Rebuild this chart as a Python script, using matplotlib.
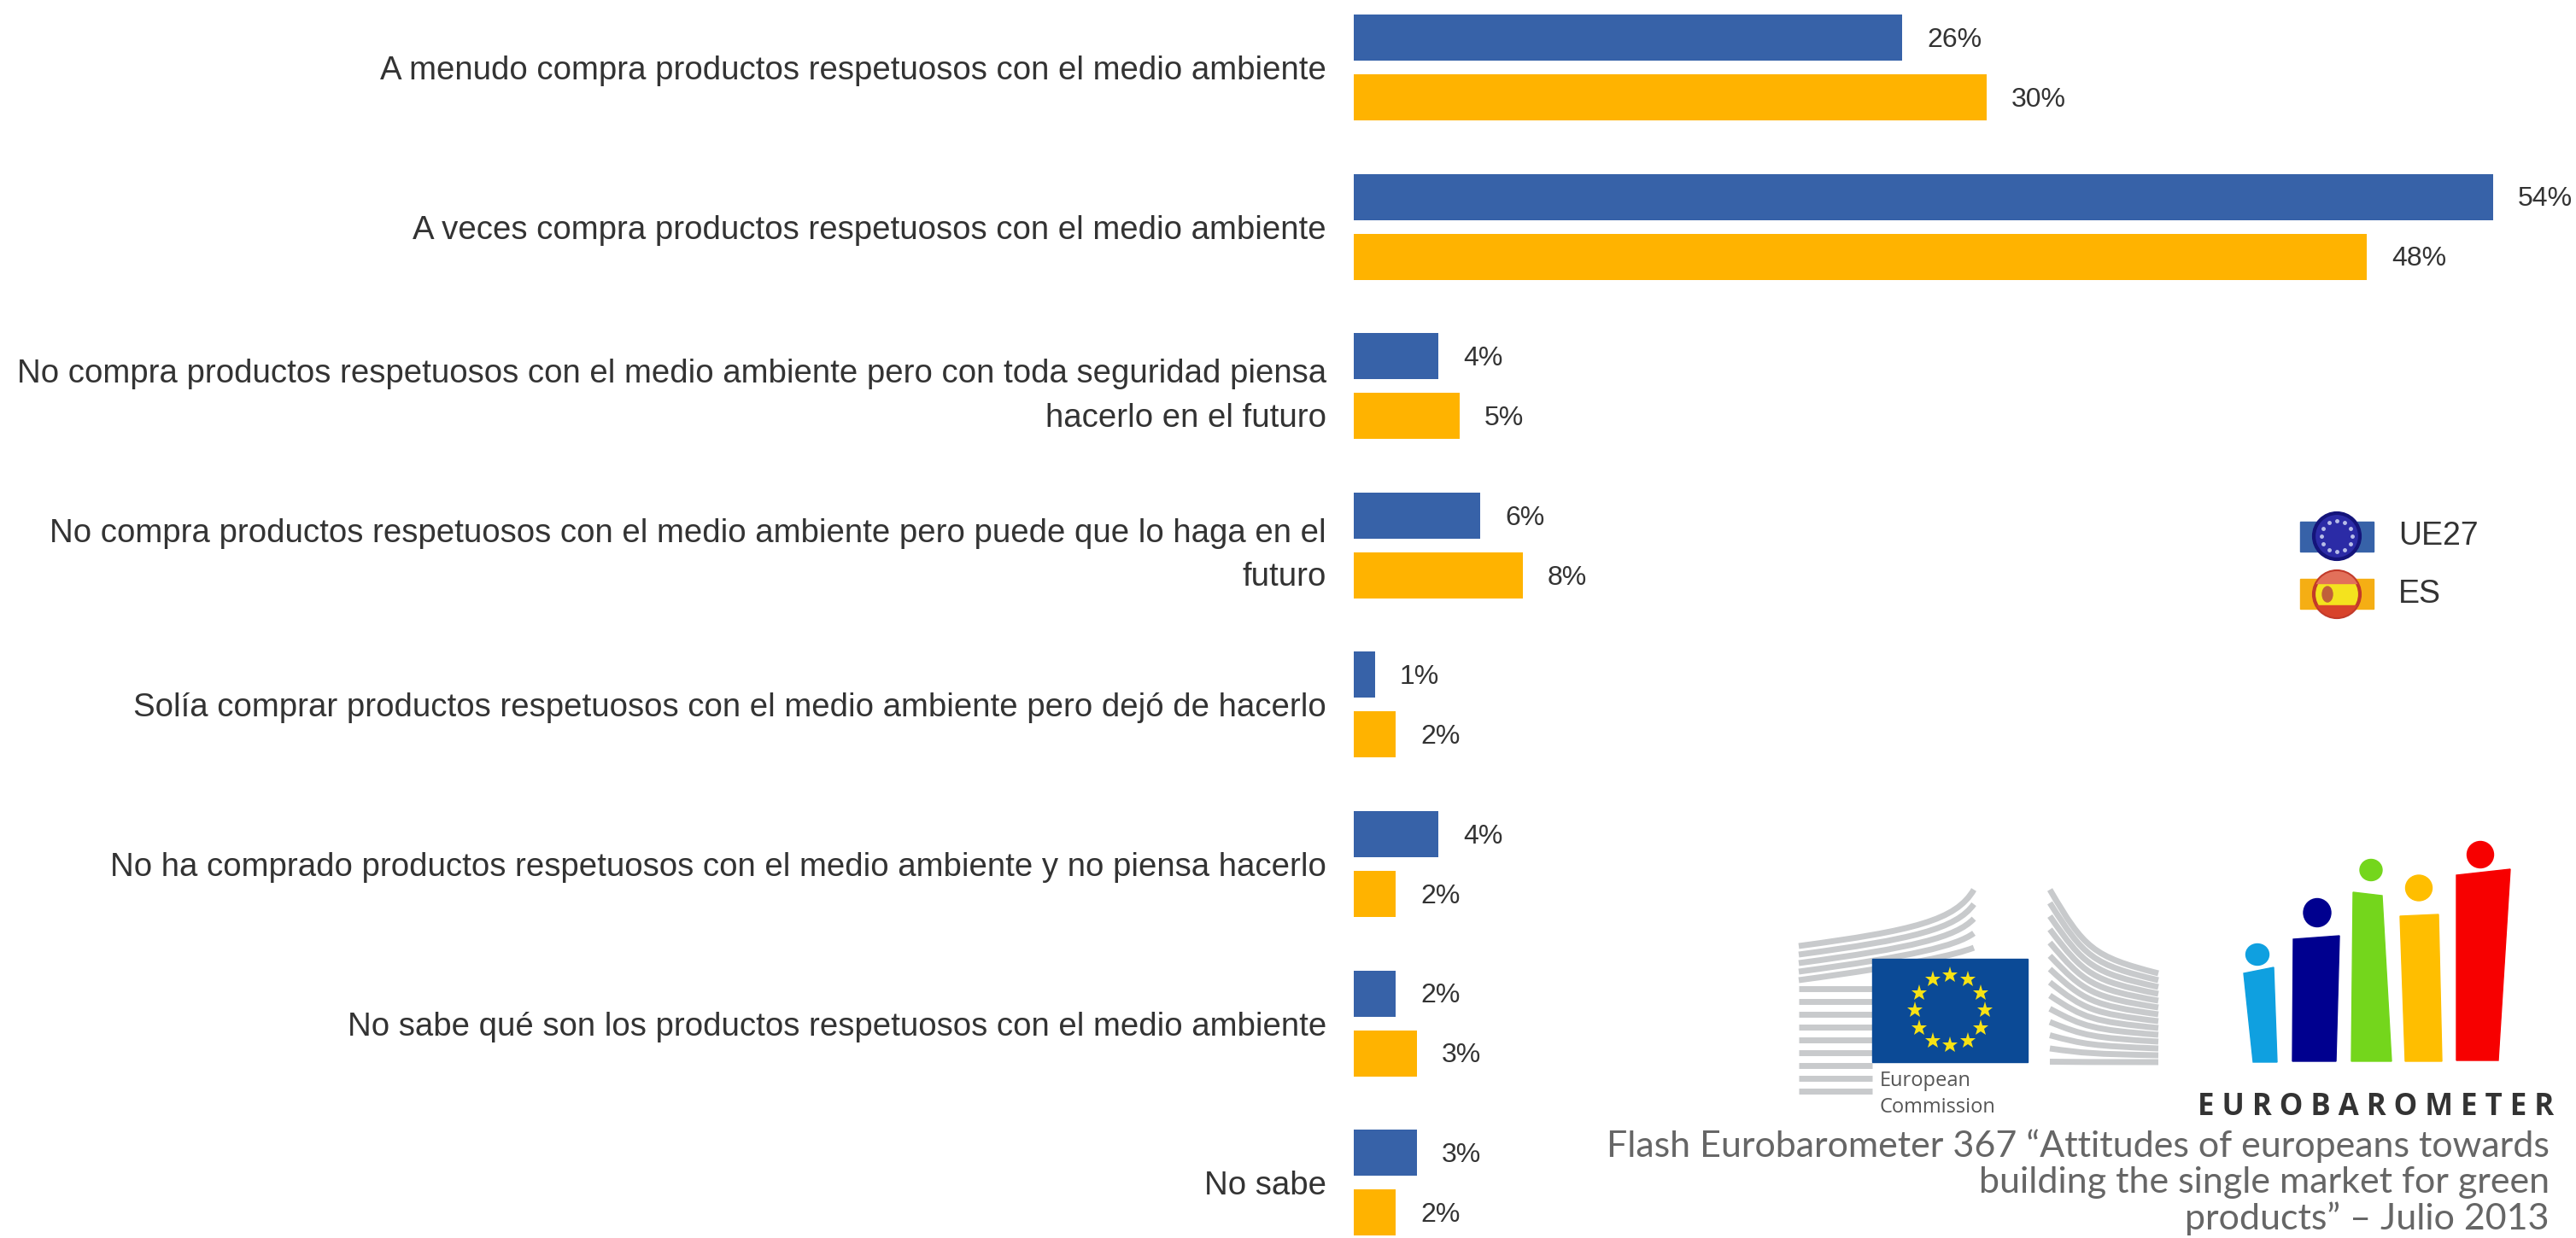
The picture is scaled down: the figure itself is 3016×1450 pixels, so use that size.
import numpy as np
import matplotlib
matplotlib.use('Agg')
from matplotlib import pyplot as plt
from matplotlib.patches import Polygon, Ellipse, Rectangle, PathPatch, Circle
from matplotlib.path import Path

categories = [
    'A menudo compra productos respetuosos con el medio ambiente',
    'A veces compra productos respetuosos con el medio ambiente',
    'No compra productos respetuosos con el medio ambiente pero con toda seguridad piensa\nhacerlo en el futuro',
    'No compra productos respetuosos con el medio ambiente pero puede que lo haga en el\nfuturo',
    'Solía comprar productos respetuosos con el medio ambiente pero dejó de hacerlo',
    'No ha comprado productos respetuosos con el medio ambiente y no piensa hacerlo',
    'No sabe qué son los productos respetuosos con el medio ambiente',
    'No sabe',
]
ue27 = [26, 54, 4, 6, 1, 4, 2, 3]
es = [30, 48, 5, 8, 2, 2, 3, 2]

BLUE = '#3762A8'
ORANGE = '#FFB300'
W, H = 3016, 1450
LABEL_FONT = 'Liberation Sans'

fig = plt.figure(figsize=(W / 100, H / 100), dpi=100, facecolor='white')

# chart axes: zero line at x=1585, 24.7 px per percent, 186.6 px per group
ax = fig.add_axes([1585 / W, 0, 1 - 1585 / W, 1])
ax.set_xlim(0, (W - 1585) / 24.7)
ax.set_ylim((H - 79) / 186.6, -79 / 186.6)
y = np.arange(len(categories))
offset = 0.1876
bar_h = 0.289
ax.barh(y - offset, ue27, height=bar_h, color=BLUE)
ax.barh(y + offset, es, height=bar_h, color=ORANGE)
for i in range(len(categories)):
    ax.annotate('{}%'.format(ue27[i]), (ue27[i], y[i] - offset), xytext=(21, -2), textcoords='offset points',
                va='center', ha='left', fontsize=23, color='#333333', family=LABEL_FONT)
    ax.annotate('{}%'.format(es[i]), (es[i], y[i] + offset), xytext=(21, -2), textcoords='offset points',
                va='center', ha='left', fontsize=23, color='#333333', family=LABEL_FONT)
ax.set_yticks(y, categories, family=LABEL_FONT, fontsize=27.6, color='#333333', ma='right', linespacing=1.56)
ax.tick_params(axis='y', length=0, pad=23)
ax.set_xticks([])
for s in ax.spines.values():
    s.set_visible(False)

# overlay in image pixels for the legend and the logos
deco = fig.add_axes([0, 0, 1, 1], facecolor='none')
deco.set_xlim(0, W)
deco.set_ylim(H, 0)
deco.axis('off')

# legend
deco.add_patch(Rectangle((2693, 611), 86, 35, color=BLUE))
deco.add_patch(Rectangle((2693, 678), 86, 35, color='#F5AE14'))
deco.add_patch(Circle((2736, 628), 27, fc='#2B2BA6', ec='#14147A', lw=3, zorder=3))
for a in np.linspace(0, 2 * np.pi, 12, endpoint=False):
    deco.plot(2736 + 18 * np.cos(a), 628 + 18 * np.sin(a), 'o', ms=2.5, color='#B8BEE8', zorder=4)
deco.add_patch(Circle((2736, 696), 27, fc='#F4E31E', ec='#C23A2A', lw=3, zorder=3))
top = Rectangle((2705, 665), 62, 18, color='#E2705A', zorder=4)
bot = Rectangle((2705, 709), 62, 18, color='#D8432B', zorder=4)
deco.add_patch(top)
deco.add_patch(bot)
clip = Circle((2736, 696), 27, transform=deco.transData)
top.set_clip_path(clip)
bot.set_clip_path(clip)
deco.add_patch(Ellipse((2725, 696), 12, 18, color='#C0603A', zorder=5))
deco.text(2808, 628, 'UE27', family=LABEL_FONT, fontsize=27, color='#333333', va='center')
deco.text(2808, 696, 'ES', family=LABEL_FONT, fontsize=27, color='#333333', va='center')

# European Commission logo
for k in range(14):
    y0 = 1108 + 10 * k
    if k < 5:
        ye = 1042 + 17 * k
        p = Path([(2106, y0), (2240, y0 - 18), (2290, y0 - 30), (2311, ye)], [1, 4, 4, 4])
    else:
        p = Path([(2106, y0 + 5 * (k - 5)), (2192, y0 + 5 * (k - 5))], [1, 2])
    deco.add_patch(PathPatch(p, fc='none', ec='#C8CACC', lw=5))
for k in range(14):
    y0 = 1042 + 15.5 * k
    ye = 1140 + 8 * k
    p = Path([(2400, y0), (2440, y0 + 0.7 * (ye - y0)), (2450, ye - 0.2 * (ye - y0)), (2527, ye)], [1, 4, 4, 4])
    deco.add_patch(PathPatch(p, fc='none', ec='#C8CACC', lw=5))
deco.add_patch(Rectangle((2192, 1123), 182, 121, color='#0B4A96', zorder=3))
for a in np.linspace(0, 2 * np.pi, 12, endpoint=False):
    deco.plot(2283 + 41 * np.cos(a), 1183 + 41 * np.sin(a), marker='*', ms=14, color='#F7E214', mew=0, zorder=4)
deco.text(2201, 1266, 'European', family='Open Sans', fontsize=17, color='#555555', va='center')
deco.text(2201, 1297, 'Commission', family='Open Sans', fontsize=17, color='#555555', va='center')

# Eurobarometer logo
bodies = [
    ([(2627, 1140), (2662, 1133), (2666, 1244), (2638, 1244)], '#0FA0E0'),
    ([(2685, 1100), (2739, 1096), (2735, 1243), (2684, 1243)], '#00008F'),
    ([(2755, 1045), (2789, 1049), (2800, 1243), (2753, 1243)], '#74D61C'),
    ([(2810, 1073), (2855, 1071), (2859, 1243), (2816, 1243)], '#FFBE00'),
    ([(2876, 1025), (2939, 1018), (2925, 1242), (2876, 1242)], '#F70000'),
]
heads = [
    ((2643, 1118), 27, 25, '#0FA0E0'),
    ((2713, 1069), 32, 33, '#00008F'),
    ((2776, 1019), 26, 25, '#74D61C'),
    ((2832, 1040), 31, 30, '#FFBE00'),
    ((2904, 1001), 31, 31, '#F70000'),
]
for pts, c in bodies:
    deco.add_patch(Polygon(pts, closed=True, color=c))
for xy, w, h, c in heads:
    deco.add_patch(Ellipse(xy, w, h, color=c))
deco.text(2990, 1297, 'E U R O B A R O M E T E R', family='Open Sans', weight='bold', fontsize=25,
          color='#333333', va='center', ha='right')

# source
source = ['Flash Eurobarometer 367 “Attitudes of europeans towards',
          'building the single market for green',
          'products” – Julio 2013']
for line, yy in zip(source, [1342, 1385, 1427]):
    deco.text(2985, yy, line, family='Lato', fontsize=31, color='#666666', va='center', ha='right')

fig.savefig('out.png', dpi=100)
